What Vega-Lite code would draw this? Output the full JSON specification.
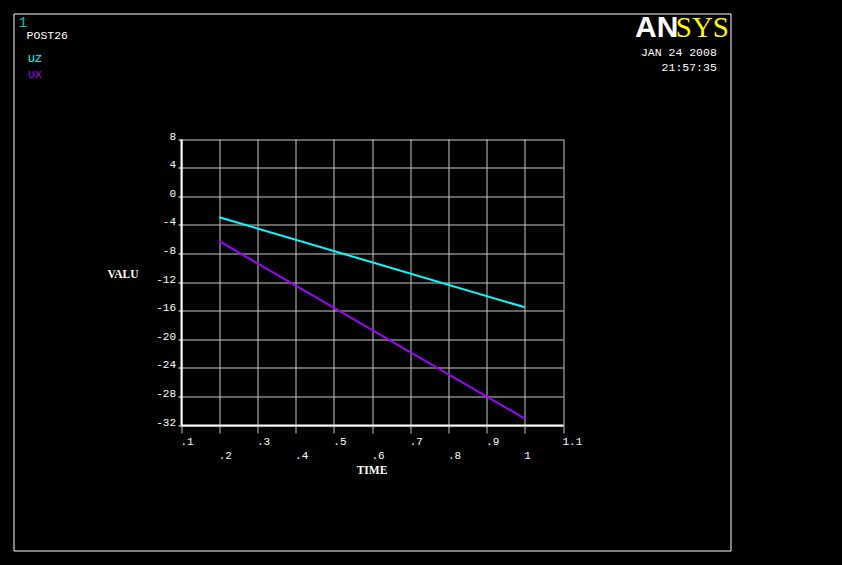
{
  "$schema": "https://vega.github.io/schema/vega-lite/v6.json",
  "width": 717,
  "height": 537,
  "autosize": {"type": "none"},
  "padding": {"left": 13.5, "top": 13.5, "right": 111.5, "bottom": 14.5},
  "background": "#000000",
  "config": {
    "view": {"stroke": "#FFFFFF", "strokeWidth": 1},
    "axis": {
      "labelFont": "Liberation Mono",
      "labelFontSize": 11,
      "labelColor": "#FFFFFF",
      "gridColor": "#C8C8C8",
      "gridWidth": 1,
      "gridOpacity": 1,
      "domainColor": "#FFFFFF",
      "domainWidth": 2,
      "labelOverlap": false,
      "labelFlush": false,
      "labelBound": false,
      "titleFont": "Liberation Serif",
      "titleFontSize": 11.5,
      "titleFontWeight": "bold",
      "titleColor": "#FFFFF0"
    }
  },
  "data": {
    "values": [
      {"series": "UZ", "time": 0.2, "value": -2.94},
      {"series": "UZ", "time": 1.0, "value": -15.54},
      {"series": "UX", "time": 0.2, "value": -6.28},
      {"series": "UX", "time": 1.0, "value": -31.12}
    ]
  },
  "resolve": {"axis": {"x": "independent", "y": "independent"}},
  "layer": [
    {
      "mark": {"type": "line", "strokeWidth": 2},
      "encoding": {
        "x": {
          "field": "time",
          "type": "quantitative",
          "scale": {"domain": [0.1, 1.1], "range": [167.5, 549.5], "nice": false, "zero": false},
          "axis": {
            "orient": "bottom",
            "offset": -125.5,
            "values": [0.1, 0.2, 0.3, 0.4, 0.5, 0.6, 0.7, 0.8, 0.9, 1.0, 1.1],
            "labelExpr": "round(datum.value*10) % 2 == 0 ? ['', replace(format(datum.value, '.1~f'), '0.', '.')] : replace(format(datum.value, '.1~f'), '0.', '.')",
            "labelAlign": "left",
            "labelBaseline": "top",
            "labelOffset": -1,
            "labelPadding": 2,
            "labelLineHeight": 14,
            "tickSize": 8,
            "tickColor": "#C8C8C8",
            "tickWidth": 1,
            "title": "TIME",
            "titleX": 358,
            "titleY": 48.8,
            "titleAlign": "center",
            "titleBaseline": "alphabetic"
          }
        },
        "y": {
          "field": "value",
          "type": "quantitative",
          "scale": {"domain": [-32, 8], "range": [411.5, 125.5], "nice": false, "zero": false},
          "axis": {
            "orient": "left",
            "offset": -167.5,
            "values": [-32, -28, -24, -20, -16, -12, -8, -4, 0, 4, 8],
            "labelExpr": "'' + datum.value",
            "labelAlign": "right",
            "labelBaseline": "alphabetic",
            "labelPadding": 2.5,
            "tickSize": 3,
            "tickColor": "#FFFFFF",
            "title": "VALU",
            "titleAngle": 0,
            "titleX": -58.5,
            "titleY": 264,
            "titleAlign": "center",
            "titleBaseline": "alphabetic"
          }
        },
        "color": {
          "field": "series",
          "type": "nominal",
          "scale": {"domain": ["UZ", "UX"], "range": ["#00FFFF", "#A000FF"]},
          "legend": {
            "orient": "none",
            "legendX": 13.1,
            "legendY": 16.7,
            "padding": 0,
            "title": "POST26",
            "titleFont": "Liberation Mono",
            "titleFontSize": 11.5,
            "titleFontWeight": "normal",
            "titleColor": "#FFFFFF",
            "titleBaseline": "top",
            "titlePadding": 11.5,
            "labelFont": "Liberation Mono",
            "labelFontSize": 11.5,
            "labelColor": {"expr": "datum.value == 'UZ' ? '#00FFFF' : '#A000FF'"},
            "labelOffset": -10,
            "symbolSize": 0,
            "symbolStrokeWidth": 0,
            "symbolOpacity": 0,
            "rowPadding": 3.5
          }
        }
      }
    },
    {
      "mark": {"type": "line", "opacity": 0},
      "encoding": {
        "x": {
          "field": "time",
          "type": "quantitative",
          "axis": {
            "orient": "top",
            "offset": 0,
            "domain": false,
            "ticks": false,
            "labels": false,
            "grid": false,
            "title": ["JAN 24 2008", "21:57:35"],
            "titleFont": "Liberation Mono",
            "titleFontSize": 11.5,
            "titleFontWeight": "normal",
            "titleColor": "#FFFFFF",
            "titleAlign": "right",
            "titleBaseline": "alphabetic",
            "titleLineHeight": 15,
            "titleAngle": 0,
            "titleX": 702.8,
            "titleY": 42
          }
        },
        "y": {
          "field": "value",
          "type": "quantitative",
          "axis": {
            "orient": "left",
            "offset": 0,
            "domain": false,
            "ticks": false,
            "labels": false,
            "grid": false,
            "title": "1",
            "titleFont": "Liberation Mono",
            "titleFontSize": 15,
            "titleFontWeight": "normal",
            "titleColor": "#00C0B0",
            "titleAngle": 0,
            "titleAlign": "left",
            "titleBaseline": "alphabetic",
            "titleX": 4.4,
            "titleY": 12.7
          }
        },
        "detail": {"field": "series"}
      }
    },
    {
      "mark": {"type": "line", "opacity": 0},
      "encoding": {
        "x": {
          "field": "time",
          "type": "quantitative",
          "axis": {
            "orient": "top",
            "offset": 0,
            "domain": false,
            "ticks": false,
            "labels": false,
            "grid": false,
            "title": "AN",
            "titleFont": "Liberation Sans",
            "titleFontSize": 30,
            "titleFontWeight": "bold",
            "titleColor": "#FFFFFF",
            "titleAlign": "left",
            "titleBaseline": "alphabetic",
            "titleAngle": 0,
            "titleX": 621,
            "titleY": 23.3
          }
        },
        "y": {
          "field": "value",
          "type": "quantitative",
          "axis": {
            "orient": "left",
            "offset": 0,
            "domain": false,
            "ticks": false,
            "labels": false,
            "grid": false,
            "title": "SYS",
            "titleFont": "Liberation Serif",
            "titleFontSize": 29,
            "titleFontWeight": "normal",
            "titleColor": "#FFFF00",
            "titleAngle": 0,
            "titleAlign": "left",
            "titleBaseline": "alphabetic",
            "titleX": 661.8,
            "titleY": 23.3
          }
        },
        "detail": {"field": "series"}
      }
    }
  ]
}
